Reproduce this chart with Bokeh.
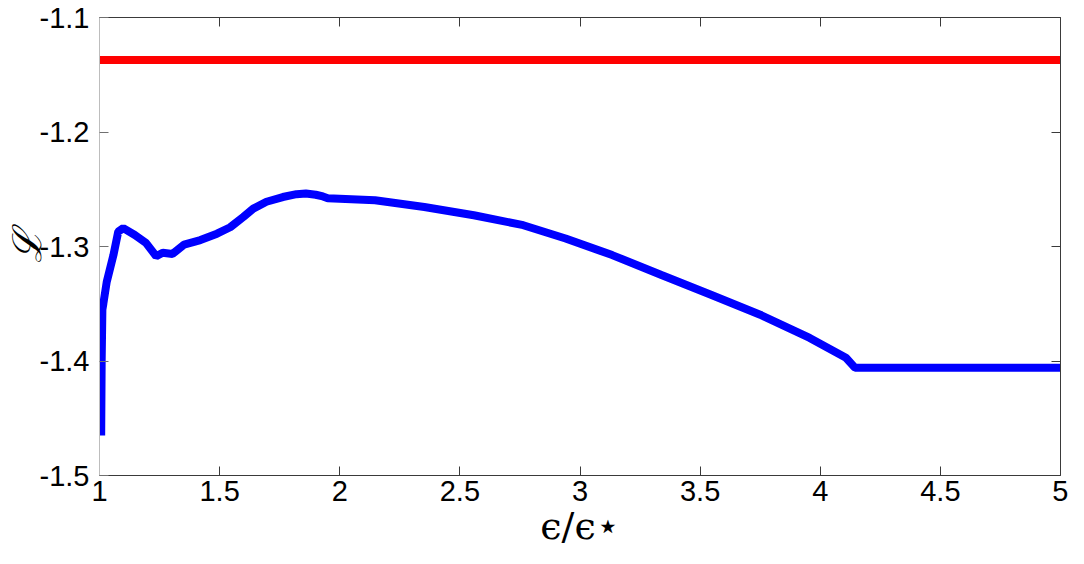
from bokeh.plotting import figure
from bokeh.embed import file_html
from bokeh.resources import INLINE
from bokeh.models import FixedTicker, LinearAxis, CustomLabelingPolicy

# Blue curve: L vs eps/eps*
eps_ratio = [1.007, 1.009, 1.012, 1.016, 1.03, 1.058, 1.078, 1.099, 1.147, 1.194,
             1.236, 1.263, 1.304, 1.352, 1.42, 1.489, 1.544, 1.599, 1.64, 1.695,
             1.763, 1.82, 1.859, 1.90, 1.93, 1.95, 2.147, 2.352, 2.558, 2.764,
             2.94, 3.134, 3.339, 3.545, 3.75, 3.956, 4.107, 4.145, 4.5, 5.0]
L_values = [-1.465, -1.40, -1.355, -1.350, -1.331, -1.3075, -1.287, -1.284, -1.290, -1.297,
            -1.3085, -1.3055, -1.3065, -1.2984, -1.2944, -1.2888, -1.2832, -1.2741, -1.2669, -1.2609,
            -1.2568, -1.2543, -1.2537, -1.2548, -1.2563, -1.2578, -1.2596, -1.2655, -1.2727, -1.2814,
            -1.2930, -1.3075, -1.3249, -1.3422, -1.3596, -1.3799, -1.3972, -1.406, -1.406, -1.406]

# Red reference level
L_ref = -1.1372

x_ticks = [1, 1.5, 2, 2.5, 3, 3.5, 4, 4.5, 5]
y_ticks = [-1.5, -1.4, -1.3, -1.2, -1.1]
y_tick_labels = ["-1.5", "-1.4", "-1.3", "-1.2", "-1.1"]
x_label = "ϵ/ϵ⋆"
y_label = "ℒ"

DARK = "#3a3a3a"

p = figure(width=1068, height=556, output_backend="svg", toolbar_location=None,
           x_range=(1, 5), y_range=(-1.5, -1.1),
           min_border_left=93, min_border_right=8, min_border_top=17, min_border_bottom=81)

p.line(eps_ratio, L_values, line_color="#0000ff", line_width=8)
p.line([x_ticks[0], x_ticks[-1]], [L_ref, L_ref], line_color="#ff0000", line_width=8)

p.xgrid.visible = False
p.ygrid.visible = False
p.outline_line_color = None
p.background_fill_color = "white"
p.border_fill_color = "white"

for ax in (p.xaxis[0], p.yaxis[0]):
    ax.major_tick_in = 9
    ax.major_tick_out = 0
    ax.minor_tick_in = 0
    ax.minor_tick_out = 0
    ax.major_tick_line_color = DARK
    ax.major_label_text_font = "Liberation Sans"
    ax.major_label_text_font_size = "29px"
    ax.major_label_text_color = "black"

p.xaxis.axis_line_color = DARK
p.yaxis.axis_line_color = "#bdbdbd"
p.yaxis.major_tick_line_color = "#707070"

p.xaxis.ticker = FixedTicker(ticks=x_ticks)
p.yaxis.ticker = FixedTicker(ticks=y_ticks)
p.yaxis.major_label_overrides = {t: s for t, s in zip(y_ticks, y_tick_labels)}
p.xaxis.major_label_standoff = 5
p.yaxis.major_label_standoff = 10

p.xaxis.axis_label = x_label
p.xaxis.axis_label_text_font = "DejaVu Serif"
p.xaxis.axis_label_text_font_style = "normal"
p.xaxis.axis_label_text_font_size = "38px"
p.xaxis.axis_label_standoff = 0
p.xaxis.axis_label_text_color = "black"

p.yaxis.axis_label = y_label
p.yaxis.axis_label_text_font = "DejaVu Serif"
p.yaxis.axis_label_text_font_style = "italic"
p.yaxis.axis_label_text_font_size = "40px"
p.yaxis.axis_label_standoff = -13
p.yaxis.axis_label_text_color = "black"

# mirrored box axes (top and right) with inward ticks, no labels
no_labels = CustomLabelingPolicy(code="for (const i of indices) { indices.unset(i) } return indices")
for place, ticks in (("above", x_ticks), ("right", y_ticks)):
    ax = LinearAxis(ticker=FixedTicker(ticks=ticks), major_label_text_font_size="0px",
                    major_label_policy=no_labels,
                    major_label_standoff=0, major_tick_in=9, major_tick_out=0,
                    minor_tick_in=0, minor_tick_out=0, axis_line_color=DARK,
                    major_tick_line_color=DARK)
    p.add_layout(ax, place)

open("out.html", "w").write(file_html(p, INLINE))
